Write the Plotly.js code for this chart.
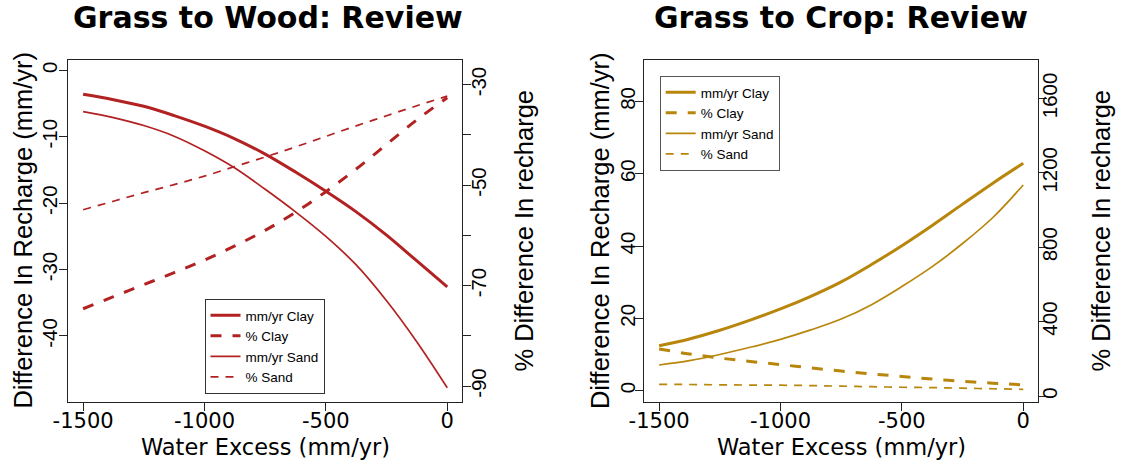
<!DOCTYPE html>
<html>
<head>
<meta charset="utf-8">
<script src="https://cdn.plot.ly/plotly-3.0.1.min.js"></script>
<style>
  html, body { margin: 0; padding: 0; background: #ffffff; }
  #chart { width: 1122px; height: 464px; }
</style>
</head>
<body>
<div id="chart"></div>
<script>
// Water excess (mm/yr) at which each scenario was evaluated
const waterExcess = [-1500, -1375, -1250, -1125, -1000, -875, -750, -625, -500, -375, -250, -125, 0];

// Grass to Wood: change in recharge (mm/yr, left axis) and percent change (right axis)
const woodClayMm  = [-3.6, -4.4, -5.4, -6.8, -8.4, -10.3, -12.6, -15.3, -18.2, -21.3, -24.8, -28.7, -32.6];
const woodClayPct = [-74.6, -72.2, -69.8, -67.4, -64.9, -62.1, -59.0, -55.4, -51.3, -46.8, -41.9, -37.0, -32.6];
const woodSandMm  = [-6.2, -7.1, -8.3, -9.9, -12.1, -14.7, -17.9, -21.3, -25.0, -29.3, -34.7, -40.9, -47.8];
const woodSandPct = [-54.9, -53.2, -51.5, -49.9, -48.2, -46.3, -44.4, -42.4, -40.3, -38.2, -36.2, -34.2, -32.3];

// Grass to Crop: change in recharge (mm/yr, left axis) and percent change (right axis)
const cropClayMm  = [12.4, 14.3, 16.7, 19.5, 22.6, 26.1, 30.1, 34.9, 40.1, 45.7, 51.6, 57.4, 62.9];
const cropClayPct = [253, 226, 204, 186, 169, 151, 134, 119, 105, 91, 79, 69, 60];
const cropSandMm  = [7.1, 8.3, 10.0, 12.0, 14.2, 16.8, 19.8, 23.8, 28.8, 34.3, 40.7, 47.9, 56.9];
const cropSandPct = [63, 62, 60, 59, 58, 56, 53, 50, 47, 45, 42, 39, 36];

// Labels
const panelTitles = ['Grass to Wood: Review', 'Grass to Crop: Review'];
const seriesNames = ['mm/yr Clay', '% Clay', 'mm/yr Sand', '% Sand'];
const xTitle = 'Water Excess (mm/yr)';
const yLeftTitle = 'Difference In Recharge (mm/yr)';
const yRightTitle = '% Difference In recharge';

// Tick positions and labels
const xTickVals = [-1500, -1000, -500, 0];
const xTickText = ['-1500', '-1000', '-500', '0'];
const woodMmTicks = [0, -10, -20, -30, -40];
const woodMmText = ['0', '-10', '-20', '-30', '-40'];
const woodPctTicks = [-30, -40, -50, -60, -70, -80, -90];
const woodPctText = ['-30', '', '-50', '', '-70', '', '-90'];
const cropMmTicks = [0, 20, 40, 60, 80];
const cropPctTicks = [0, 400, 800, 1200, 1600];

// ---- page geometry (pixels) ----
const W = 1122, H = 464;
const fx = p => p / W;
const fy = p => 1 - p / H;

const WOOD = '#B22222';
const CROP = '#B8860B';
const AXIS = '#222222';
const boxTop = 59.5, boxBottom = 401.7;
const leftBox = [68.3, 462.3];
const rightBox = [644.3, 1038.3];

const thick = 3, thin = 1.7;
const dashThick = '11px,11px';
const dashThin = '8px,7px';

function series(x, y, name, color, width, dash, xa, ya, legend) {
  return {
    type: 'scatter', mode: 'lines', x: x, y: y, name: name,
    xaxis: xa, yaxis: ya, legend: legend,
    line: { color: color, width: width, dash: dash, shape: 'spline', smoothing: 1 },
    hoverinfo: 'skip'
  };
}

const traces = [
  series(waterExcess, woodClayMm,  seriesNames[0], WOOD, thick, 'solid',   'x',  'y',  'legend'),
  series(waterExcess, woodClayPct, seriesNames[1], WOOD, thick, dashThick, 'x',  'y2', 'legend'),
  series(waterExcess, woodSandMm,  seriesNames[2], WOOD, thin,  'solid',   'x',  'y',  'legend'),
  series(waterExcess, woodSandPct, seriesNames[3], WOOD, thin,  dashThin,  'x',  'y2', 'legend'),
  series(waterExcess, cropClayMm,  seriesNames[0], CROP, thick, 'solid',   'x2', 'y3', 'legend2'),
  series(waterExcess, cropClayPct, seriesNames[1], CROP, thick, dashThick, 'x2', 'y4', 'legend2'),
  series(waterExcess, cropSandMm,  seriesNames[2], CROP, thin,  'solid',   'x2', 'y3', 'legend2'),
  series(waterExcess, cropSandPct, seriesNames[3], CROP, thin,  dashThin,  'x2', 'y4', 'legend2')
];

const xTickFont = { family: 'DejaVu Sans', size: 21, color: '#000' };
const yTickFont = { family: 'Liberation Sans', size: 20.5, color: '#000' };

function baseAxis(extra) {
  return Object.assign({
    showgrid: false, zeroline: false, showline: true, linecolor: AXIS, linewidth: 1,
    ticks: 'outside', ticklen: 8, tickwidth: 1, tickcolor: AXIS, tickmode: 'array',
    fixedrange: true
  }, extra);
}

const yDomain = [fy(boxBottom), fy(boxTop)];

const layout = {
  width: W, height: H,
  margin: { l: 0, r: 0, t: 0, b: 0, pad: 0 },
  paper_bgcolor: '#ffffff', plot_bgcolor: '#ffffff',
  showlegend: true,
  xaxis: baseAxis({ domain: [fx(leftBox[0]), fx(leftBox[1])], range: [-1561, 62], anchor: 'y',
    tickvals: xTickVals, ticktext: xTickText, tickfont: xTickFont, mirror: true, ticklabelstandoff: -8 }),
  yaxis: baseAxis({ domain: yDomain, range: [-49.9, 1.65], anchor: 'x',
    tickvals: woodMmTicks, ticktext: woodMmText, tickfont: yTickFont, tickangle: -90, ticklabelstandoff: -6 }),
  yaxis2: baseAxis({ overlaying: 'y', side: 'right', anchor: 'x', range: [-93.1, -25],
    tickvals: woodPctTicks, ticktext: woodPctText, tickfont: yTickFont, tickangle: -90, ticklabelstandoff: -10 }),
  xaxis2: baseAxis({ domain: [fx(rightBox[0]), fx(rightBox[1])], range: [-1561, 62], anchor: 'y3',
    tickvals: xTickVals, ticktext: xTickText, tickfont: xTickFont, mirror: true, ticklabelstandoff: -8 }),
  yaxis3: baseAxis({ domain: yDomain, range: [-3.05, 91.6], anchor: 'x2',
    tickvals: cropMmTicks, ticktext: cropMmTicks.map(String), tickfont: yTickFont, tickangle: -90, ticklabelstandoff: -8 }),
  yaxis4: baseAxis({ overlaying: 'y3', side: 'right', anchor: 'x2', range: [-30.6, 1809.6],
    tickvals: cropPctTicks, ticktext: cropPctTicks.map(String), tickfont: yTickFont, tickangle: -90, ticklabelstandoff: -15 }),
  legend: {
    x: fx(204.5), y: fy(299), xanchor: 'left', yanchor: 'top',
    bgcolor: '#ffffff', bordercolor: '#333333', borderwidth: 1,
    font: { family: 'Liberation Sans', size: 13.5, color: '#000' },
    traceorder: 'normal'
  },
  legend2: {
    x: fx(659.7), y: fy(76), xanchor: 'left', yanchor: 'top',
    bgcolor: '#ffffff', bordercolor: '#555555', borderwidth: 1,
    font: { family: 'Liberation Sans', size: 13.5, color: '#000' },
    traceorder: 'normal'
  },
  annotations: []
};

const titleFont = { family: 'DejaVu Sans', size: 30, color: '#000', weight: 'bold' };
const xTitleFont = { family: 'DejaVu Sans', size: 22.5, color: '#000' };
const yTitleFont = { family: 'Liberation Sans', size: 25.5, color: '#000' };

function note(text, xp, yp, font, angle) {
  layout.annotations.push({
    text: text, xref: 'paper', yref: 'paper', x: fx(xp), y: fy(yp),
    xanchor: 'center', yanchor: 'middle', showarrow: false,
    font: font, textangle: angle || 0
  });
}

const midY = (boxTop + boxBottom) / 2;
// panel titles
note(panelTitles[0], 267.5, 17.5, titleFont);
note(panelTitles[1], 841, 17.5, titleFont);
// x axis titles
note(xTitle, 265.3, 447, xTitleFont);
note(xTitle, 841.3, 447, xTitleFont);
// y axis titles
note(yLeftTitle, 23, midY, yTitleFont, -90);
note(yRightTitle, 524, midY, yTitleFont, -90);
note(yLeftTitle, 599.5, midY, yTitleFont, -90);
note(yRightTitle, 1101, midY, yTitleFont, -90);

Plotly.newPlot('chart', traces, layout, { displayModeBar: false, staticPlot: true });
</script>
</body>
</html>
